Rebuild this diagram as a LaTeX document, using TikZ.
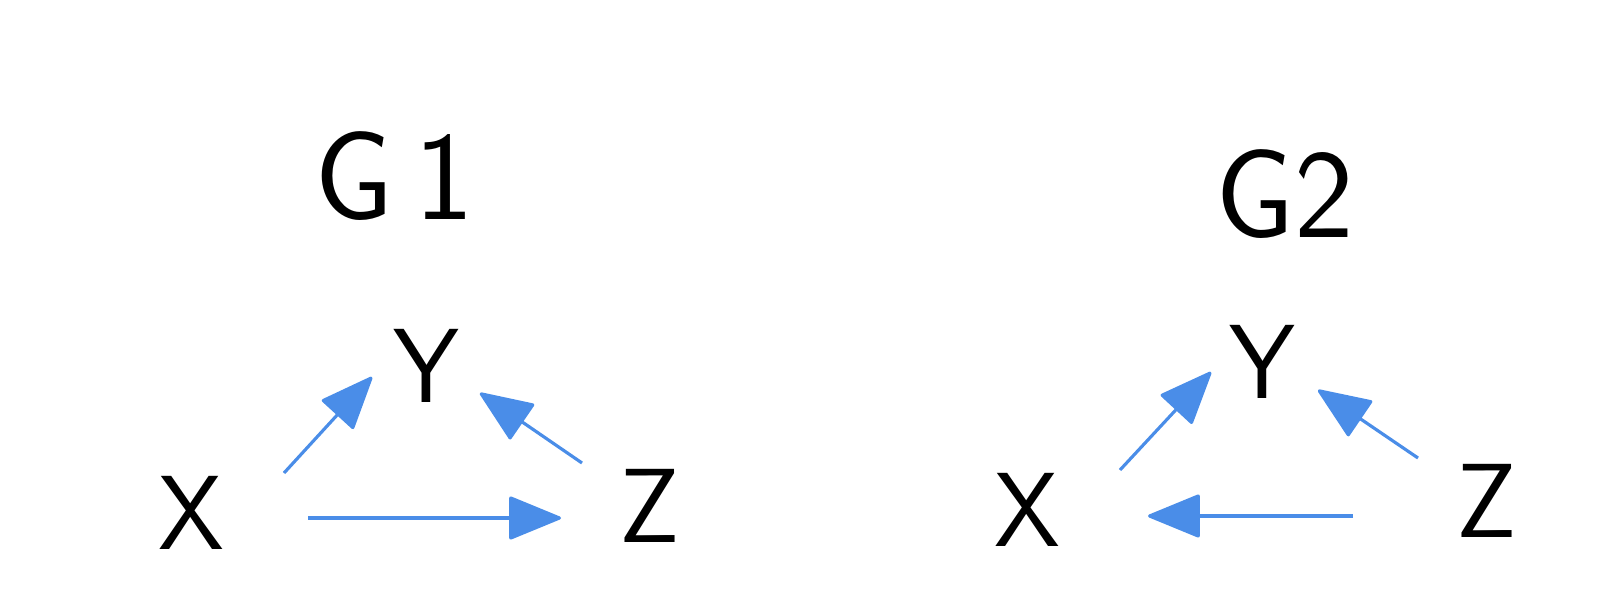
\documentclass[tikz,border=0pt]{standalone}
\usepackage{tikz}
\usepackage{xcolor}
\usetikzlibrary{positioning,calc,arrows.meta}
\definecolor{edgeblue}{RGB}{74, 141, 232}

\tikzset{
  var/.style={font=\sffamily\fontsize{60}{62}\selectfont, inner sep=0pt},
  title/.style={font=\sffamily\fontsize{72}{74}\selectfont, inner sep=0pt},
  flow/.style={edgeblue, line width=1.8pt, -{Triangle[length=31pt,width=25pt,round]}}
}

\begin{document}
\begin{tikzpicture}[x=0.02cm, y=-0.02cm]
      \useasboundingbox (0,0) rectangle (1620,592);

      % G1
      \node[title] (g1) at (394,176) {G\,1};
      \node[var] (x1) at (191,513) {X};
      \node[var] (y1) at (426,366) {Y};
      \node[var] (z1) at (650,506) {Z};

      \draw[flow] ([shift={(93,-40)}]x1.center) -- ([shift={(-54,11)}]y1.center);
      \draw[flow] ([shift={(-68,-43)}]z1.center) -- ([shift={(54,27)}]y1.center);
      \draw[flow] ([shift={(117,5)}]x1.center) -- ([shift={(-89,12)}]z1.center);

      % G2
      \node[title] (g2) at (1285,194) {G2};
      \node[var] (x2) at (1027,510) {X};
      \node[var] (y2) at (1262,362) {Y};
      \node[var] (z2) at (1487,501) {Z};

      \draw[flow] ([shift={(93,-40)}]x2.center) -- ([shift={(-51,10)}]y2.center);
      \draw[flow] ([shift={(-69,-43)}]z2.center) -- ([shift={(56,28)}]y2.center);
      \draw[flow] ([shift={(-134,15)}]z2.center) -- ([shift={(121,6)}]x2.center);

    \end{tikzpicture}
\end{document}
